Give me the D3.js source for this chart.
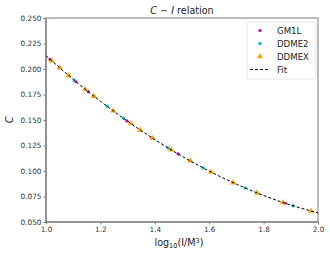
<!DOCTYPE html>
<html>
<head>
<meta charset="utf-8">
<script src="https://cdn.jsdelivr.net/npm/d3@7"></script>
<style>
  body { margin: 0; background: #fff; }
  text { font-family: "DejaVu Sans", sans-serif; }
</style>
</head>
<body>
<div id="chart"></div>
<script>
// values
var gm1lX = [1.015, 1.11, 1.155, 1.298, 1.39, 1.486, 1.88];
var gm1lC = [0.2094, 0.1876, 0.1779, 0.1491, 0.1325, 0.1167, 0.0684];

var ddme2X = [1.05, 1.104, 1.225, 1.285, 1.449, 1.578, 1.732, 1.908];
var ddme2C = [0.2012, 0.1890, 0.1634, 0.1516, 0.1226, 0.1030, 0.0834, 0.0659];

var ddmexX = [1.02, 1.05, 1.083, 1.144, 1.176, 1.247, 1.312, 1.346, 1.392, 1.46, 1.53, 1.607, 1.688, 1.776, 1.871, 1.974];
var ddmexC = [0.2082, 0.2012, 0.1937, 0.1802, 0.1734, 0.1590, 0.1465, 0.1403, 0.1321, 0.1208, 0.1100, 0.0990, 0.0886, 0.0785, 0.0691, 0.0607];

var fitX = [1.0, 1.1, 1.2, 1.3, 1.4, 1.5, 1.6, 1.7, 1.8, 1.9, 2.0];
var fitC = [0.2130, 0.1899, 0.1684, 0.1488, 0.1308, 0.1145, 0.0999, 0.0871, 0.0760, 0.0666, 0.0589];

var xTicks = [1.0, 1.2, 1.4, 1.6, 1.8, 2.0];
var yTicks = [0.050, 0.075, 0.100, 0.125, 0.150, 0.175, 0.200, 0.225, 0.250];

var svgWidth = 330, svgHeight = 255;
var margin = { top: 18, right: 12, bottom: 33, left: 46 };
var width = svgWidth - margin.left - margin.right;
var height = svgHeight - margin.top - margin.bottom;

var svg = d3.select("#chart").append("svg")
    .attr("width", svgWidth)
    .attr("height", svgHeight);

var chartGroup = svg.append("g")
    .attr("transform", `translate(${margin.left}, ${margin.top})`);

var xScale = d3.scaleLinear().domain([1.0, 2.0]).range([0, width]);
var yScale = d3.scaleLinear().domain([0.05, 0.25]).range([height, 0]);

// axes
var bottomAxis = d3.axisBottom(xScale).tickValues(xTicks).tickFormat(d3.format(".1f"))
    .tickSize(2.5).tickPadding(2);
var leftAxis = d3.axisLeft(yScale).tickValues(yTicks).tickFormat(d3.format(".3f"))
    .tickSize(2.5).tickPadding(2);

var xg = chartGroup.append("g").attr("transform", `translate(0, ${height})`).call(bottomAxis);
var yg = chartGroup.append("g").call(leftAxis);
[xg, yg].forEach(function(g) {
    g.select(".domain").remove();
    g.selectAll("line").attr("stroke", "#555").attr("stroke-width", 0.8);
    g.selectAll("text").attr("font-size", "7.3px").attr("fill", "#333");
});

// frame
chartGroup.append("rect")
    .attr("width", width).attr("height", height)
    .attr("fill", "none").attr("stroke", "#7a7a7a").attr("stroke-width", 1);
chartGroup.append("line")
    .attr("x1", 0).attr("x2", 0).attr("y1", 0).attr("y2", height)
    .attr("stroke", "#888").attr("stroke-width", 1.6);
chartGroup.append("line")
    .attr("x1", 0).attr("x2", width).attr("y1", height).attr("y2", height)
    .attr("stroke", "#888").attr("stroke-width", 1.6);

// fit line
var line = d3.line()
    .x(d => xScale(d[0]))
    .y(d => yScale(d[1]))
    .curve(d3.curveNatural);
var fitData = fitX.map((x, i) => [x, fitC[i]]);

var tri = d3.symbol().type(d3.symbolTriangle).size(16);

// markers
chartGroup.selectAll(".gm1l")
    .data(gm1lX.map((x, i) => [x, gm1lC[i]]))
    .enter().append("circle")
    .attr("cx", d => xScale(d[0])).attr("cy", d => yScale(d[1]))
    .attr("r", 1.6).attr("fill", "#bf00bf");

chartGroup.selectAll(".ddme2")
    .data(ddme2X.map((x, i) => [x, ddme2C[i]]))
    .enter().append("circle")
    .attr("cx", d => xScale(d[0])).attr("cy", d => yScale(d[1]))
    .attr("r", 1.8).attr("fill", "#17c3c3");

chartGroup.selectAll(".ddmex")
    .data(ddmexX.map((x, i) => [x, ddmexC[i]]))
    .enter().append("path")
    .attr("d", tri)
    .attr("transform", d => `translate(${xScale(d[0])}, ${yScale(d[1])})`)
    .attr("fill", "#ffa500");

chartGroup.append("path")
    .datum(fitData)
    .attr("d", line)
    .attr("fill", "none")
    .attr("stroke", "#000")
    .attr("stroke-width", 1)
    .attr("stroke-dasharray", "3,2");

// legend
var legend = svg.append("g").attr("transform", "translate(247, 22)");
legend.append("rect")
    .attr("width", 69).attr("height", 57).attr("rx", 2)
    .attr("fill", "#fff").attr("stroke", "#ddd").attr("stroke-width", 0.8);
var items = ["GM1L", "DDME2", "DDMEX", "Fit"];
items.forEach(function(name, i) {
    var y = 8.5 + i * 13;
    if (i === 0) legend.append("circle").attr("cx", 13).attr("cy", y).attr("r", 1.6).attr("fill", "#bf00bf");
    if (i === 1) legend.append("circle").attr("cx", 13).attr("cy", y).attr("r", 1.8).attr("fill", "#17c3c3");
    if (i === 2) legend.append("path").attr("d", tri).attr("transform", `translate(13, ${y})`).attr("fill", "#ffa500");
    if (i === 3) legend.append("line").attr("x1", 3).attr("x2", 22).attr("y1", y).attr("y2", y)
        .attr("stroke", "#000").attr("stroke-width", 1).attr("stroke-dasharray", "3,2");
    legend.append("text")
        .attr("x", 30).attr("y", y + 3)
        .attr("font-size", "8.6px").attr("fill", "#222")
        .text(name);
});

// title
var title = svg.append("text")
    .attr("x", margin.left + width / 2).attr("y", 14)
    .attr("text-anchor", "middle").attr("font-size", "9.6px").attr("fill", "#222");
title.append("tspan").attr("font-style", "italic").text("C");
title.append("tspan").text(" \u2212 ");
title.append("tspan").attr("font-style", "italic").text("I");
title.append("tspan").text(" relation");

// axis labels
svg.append("text")
    .attr("transform", `translate(13, ${margin.top + height / 2}) rotate(-90)`)
    .attr("text-anchor", "middle").attr("font-size", "9.6px").attr("font-style", "italic")
    .attr("fill", "#222").text("C");

var xl = svg.append("text")
    .attr("x", margin.left + width / 2 - 3).attr("y", 246)
    .attr("text-anchor", "middle").attr("font-size", "9.6px").attr("fill", "#222");
xl.append("tspan").text("log");
xl.append("tspan").attr("font-size", "6.6px").attr("dy", 2).text("10");
xl.append("tspan").attr("dy", -2).text("(I/M");
xl.append("tspan").attr("font-size", "6.6px").attr("dy", -3.5).text("3");
xl.append("tspan").attr("dy", 3.5).text(")");
</script>
</body>
</html>
